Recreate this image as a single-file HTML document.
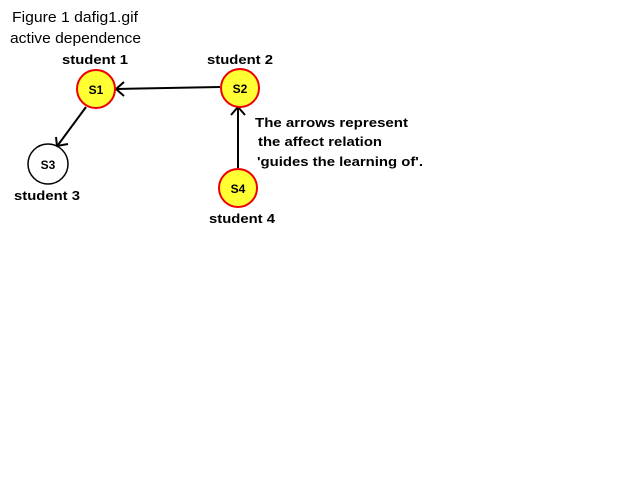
<!DOCTYPE html>
<html><head><style>body{margin:0;background:#fff}</style></head><body>
<svg width="640" height="480" xmlns="http://www.w3.org/2000/svg" font-family="Liberation Sans, sans-serif">
<rect width="640" height="480" fill="#fff"/>
<text x="12" y="22" font-size="15" textLength="126" lengthAdjust="spacingAndGlyphs">Figure 1 dafig1.gif</text>
<text x="10" y="43" font-size="15" textLength="131" lengthAdjust="spacingAndGlyphs">active dependence</text>
<g font-size="13" font-weight="bold">
<text x="62" y="64" textLength="66" lengthAdjust="spacingAndGlyphs">student 1</text>
<text x="207" y="64" textLength="66" lengthAdjust="spacingAndGlyphs">student 2</text>
<text x="14" y="200" textLength="66" lengthAdjust="spacingAndGlyphs">student 3</text>
<text x="209" y="223" textLength="66" lengthAdjust="spacingAndGlyphs">student 4</text>
<text x="255" y="127" textLength="153" lengthAdjust="spacingAndGlyphs">The arrows represent</text>
<text x="258" y="146" textLength="124" lengthAdjust="spacingAndGlyphs">the affect relation</text>
<text x="257" y="166" textLength="166" lengthAdjust="spacingAndGlyphs">'guides the learning of'.</text>
</g>
<g stroke="#000" stroke-width="2" fill="none">
<line x1="220" y1="87" x2="117" y2="89"/>
<polyline points="124,82 116,89 124,96"/>
<line x1="86" y1="107" x2="58" y2="145"/>
<polyline points="56,137 57,146 68,144"/>
<line x1="238" y1="168" x2="238" y2="108"/>
<polyline points="231,115 238,107 245,115"/>
</g>
<g stroke="#e00" stroke-width="2" fill="#ffff33">
<circle cx="96" cy="89" r="19"/>
<circle cx="240" cy="88" r="19"/>
<circle cx="238" cy="188" r="19"/>
</g>
<circle cx="48" cy="164" r="20" fill="#fff" stroke="#000" stroke-width="1.5"/>
<g font-size="12" font-weight="bold" text-anchor="middle">
<text x="96" y="94">S1</text>
<text x="240" y="93">S2</text>
<text x="48" y="169">S3</text>
<text x="238" y="193">S4</text>
</g>
</svg>
</body></html>
